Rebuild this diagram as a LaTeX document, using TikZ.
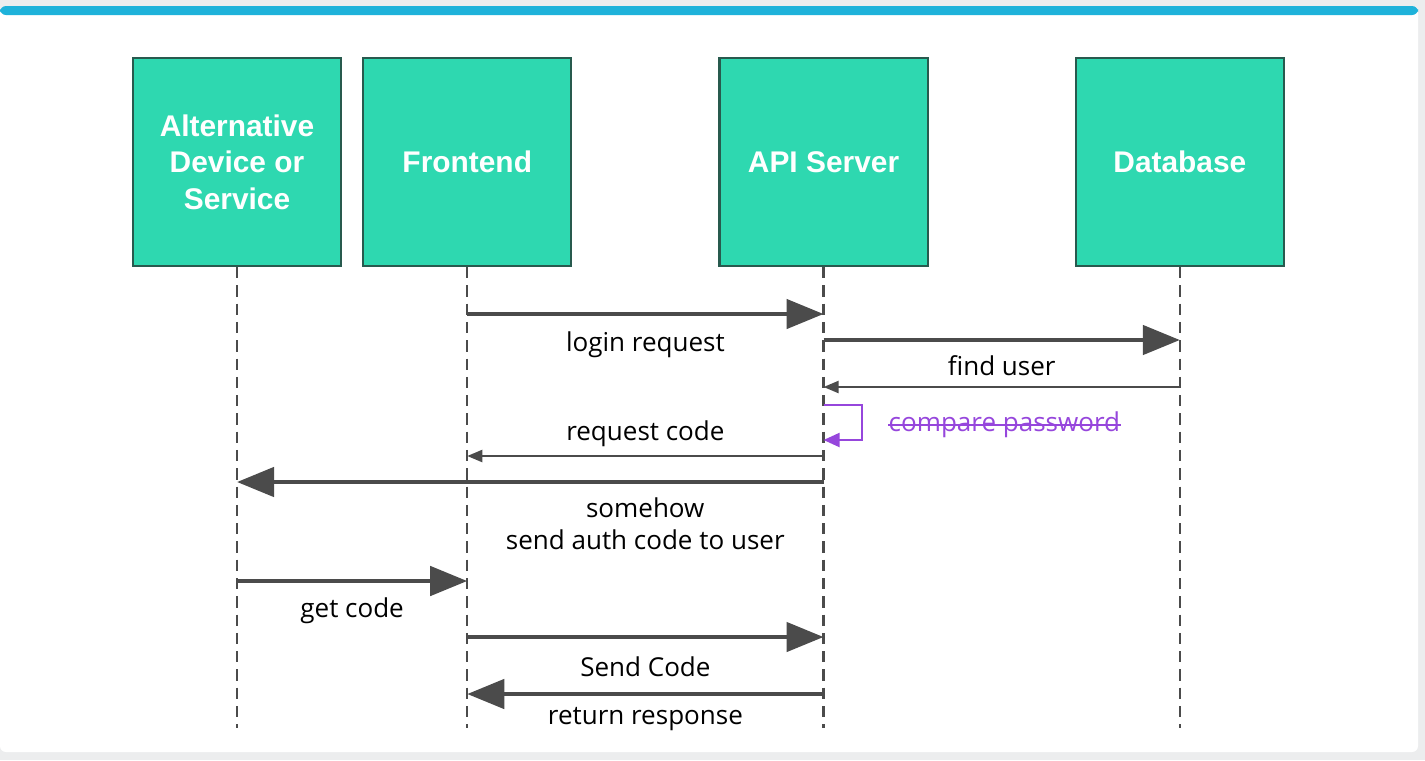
\documentclass[tikz,border=0pt]{standalone}
\usepackage{fontspec}
\setmainfont{Open Sans}
\newfontfamily\boxfont{Liberation Sans}
\usetikzlibrary{arrows.meta, positioning}
\definecolor{tealbox}{RGB}{46,216,176}
\definecolor{tealedge}{RGB}{40,90,78}
\definecolor{arrowgray}{RGB}{75,75,75}
\definecolor{linepurple}{RGB}{150,70,220}
\definecolor{topblue}{RGB}{30,178,218}
\definecolor{panelgray}{RGB}{236,237,238}

\begin{document}
\begin{tikzpicture}[
        x=0.01cm, y=-0.01cm,
        actor/.style={rectangle, draw=tealedge, line width=0.6pt, fill=tealbox, minimum width=2.08cm, minimum height=2.08cm, align=center, text=white, font=\boxfont\fontsize{8.5pt}{10.4pt}\selectfont\bfseries, inner sep=0pt},
        lifeline/.style={draw=arrowgray, line width=0.7pt, dash pattern=on 3.2pt off 2pt},
        bigmsg/.style={draw=arrowgray, line width=1.3pt, -{Triangle[length=0.37cm, width=0.29cm]}},
        smallmsg/.style={draw=arrowgray, line width=0.6pt, -{Triangle[length=0.15cm, width=0.12cm]}},
        msglabel/.style={font=\fontsize{7.4pt}{9.2pt}\selectfont, text=black, align=center, inner sep=0pt}
    ]
        % page and panel
        \useasboundingbox (0,0) rectangle (1425,760);
        \fill[panelgray] (0,0) rectangle (1425,760);
        \fill[white, rounded corners=0.06cm] (0,8) rectangle (1418,752);
        \fill[topblue, rounded corners=0.06cm] (0,6) rectangle (1418,15);

        % actors
        \node[actor] (alt) at (237,162) {Alternative\\Device or\\Service};
        \node[actor, right=0.2cm of alt] (frontend) {Frontend};
        \node[actor, right=1.46cm of frontend] (api) {API Server};
        \node[actor, right=1.46cm of api] (db) {Database};

        % lifelines
        \coordinate (bottom) at (0,728);
        \foreach \who in {alt, frontend, api, db}
            \draw[lifeline] (\who.south) -- (\who |- bottom);

        % message rows
        \coordinate (r1) at (0,314);
        \coordinate (r2) at (0,340);
        \coordinate (r3) at (0,387);
        \coordinate (r4) at (0,405);
        \coordinate (r5) at (0,440);
        \coordinate (r6) at (0,456);
        \coordinate (r7) at (0,482);
        \coordinate (r8) at (0,581);
        \coordinate (r9) at (0,637);
        \coordinate (r10) at (0,694);

        \draw[bigmsg] (frontend |- r1) -- node[msglabel, yshift=-0.31cm] {login request} (api |- r1);
        \draw[bigmsg] (api |- r2) -- node[msglabel, yshift=-0.26cm] {find user} (db |- r2);
        \draw[smallmsg] (db |- r3) -- (api |- r3);
        \draw[linepurple, line width=0.6pt, -{Triangle[length=0.16cm, width=0.14cm]}] (api |- r4) -- ++(38,0) -- ++(0,35) -- (api |- r5);
        \node[msglabel, text=linepurple, anchor=west] (compare) at (888,425) {compare password};
        \draw[linepurple, line width=0.6pt] (compare.west) -- (compare.east);
        \draw[smallmsg] (api |- r6) -- node[msglabel, yshift=0.22cm] {request code} (frontend |- r6);
        \draw[bigmsg] (api |- r7) -- node[msglabel, pos=0.304, yshift=-0.42cm] {somehow\\send auth code to user} (alt |- r7);
        \draw[bigmsg] (alt |- r8) -- node[msglabel, yshift=-0.30cm] {get code} (frontend |- r8);
        \draw[bigmsg] (frontend |- r9) -- node[msglabel, yshift=-0.30cm] {Send Code} (api |- r9);
        \draw[bigmsg] (api |- r10) -- node[msglabel, yshift=-0.25cm] {return response} (frontend |- r10);
    \end{tikzpicture}
\end{document}
